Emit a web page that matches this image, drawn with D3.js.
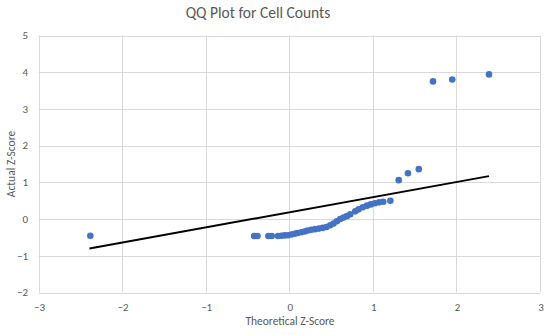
<!DOCTYPE html>
<html>
<head>
<meta charset="utf-8">
<script src="https://cdn.jsdelivr.net/npm/d3@7"></script>
<style>
  body { margin: 0; background: #fff; }
  text { font-family: Calibri, Carlito, Lato, "Open Sans", sans-serif; fill: #595959; }
</style>
</head>
<body>
<svg id="chart" width="550" height="335"></svg>
<script>
// theoretical z-scores (x) and actual z-scores (y)
const theoretical = [-2.38, -0.42, -0.38, -0.25, -0.21, -0.135, -0.095, -0.055, -0.015, 0.025,
  0.065, 0.10, 0.145, 0.185, 0.22, 0.265, 0.31, 0.355, 0.40, 0.445, 0.49, 0.53, 0.57, 0.61,
  0.65, 0.69, 0.73, 0.79, 0.83, 0.88, 0.93, 0.975, 1.025, 1.075, 1.125, 1.21,
  1.31, 1.42, 1.55, 1.72, 1.95, 2.39];
const actual = [-0.455, -0.46, -0.46, -0.46, -0.46, -0.46, -0.455, -0.445, -0.44, -0.42,
  -0.40, -0.38, -0.36, -0.34, -0.31, -0.29, -0.275, -0.26, -0.24, -0.215, -0.17, -0.12, -0.06, 0.0,
  0.04, 0.08, 0.13, 0.21, 0.265, 0.32, 0.365, 0.40, 0.43, 0.455, 0.47, 0.50,
  1.06, 1.25, 1.36, 3.75, 3.80, 3.94];
// reference line end points
const lineX = [-2.39, 2.39];
const lineY = [-0.80, 1.17];

const xTicks = [-3, -2, -1, 0, 1, 2, 3];
const yTicks = [-2, -1, 0, 1, 2, 3, 4, 5];

const svg = d3.select("#chart");
const plotL = 38.5, plotR = 540, plotT = 35.5, plotB = 292.5;

const x = d3.scaleLinear().domain([-3, 3]).range([plotL, plotR]);
const y = d3.scaleLinear().domain([-2, 5]).range([plotB, plotT]);

// grid
svg.append("g").selectAll("line").data(yTicks).enter().append("line")
  .attr("x1", plotL).attr("x2", plotR)
  .attr("y1", d => Math.round(y(d)) + 0.5).attr("y2", d => Math.round(y(d)) + 0.5)
  .attr("stroke", "#d9d9d9").attr("stroke-width", 1);
svg.append("g").selectAll("line").data(xTicks).enter().append("line")
  .attr("y1", plotT).attr("y2", plotB)
  .attr("x1", d => Math.round(x(d)) + 0.5).attr("x2", d => Math.round(x(d)) + 0.5)
  .attr("stroke", "#d9d9d9").attr("stroke-width", 1);

const fmt = d3.format("d");

// tick labels
svg.append("g").selectAll("text").data(yTicks).enter().append("text")
  .attr("x", 28).attr("y", d => y(d) + 3.8)
  .attr("text-anchor", "end").attr("font-size", 11)
  .text(d => fmt(d));
svg.append("g").selectAll("text").data(xTicks).enter().append("text")
  .attr("x", d => x(d) + 1).attr("y", 311)
  .attr("text-anchor", "middle").attr("font-size", 11)
  .text(d => fmt(d));

// titles
svg.append("text").attr("x", 258).attr("y", 18)
  .attr("text-anchor", "middle").attr("font-size", 15.5)
  .text("QQ Plot for Cell Counts");
svg.append("text").attr("x", 290).attr("y", 325)
  .attr("text-anchor", "middle").attr("font-size", 11.5)
  .text("Theoretical Z-Score");
svg.append("text").attr("transform", "translate(15,164) rotate(-90)")
  .attr("text-anchor", "middle").attr("font-size", 11.5)
  .text("Actual Z-Score");

// reference line
svg.append("line")
  .attr("x1", x(lineX[0])).attr("y1", y(lineY[0]))
  .attr("x2", x(lineX[1])).attr("y2", y(lineY[1]))
  .attr("stroke", "#000").attr("stroke-width", 2);

// points
const pts = theoretical.map((t, i) => ({ t, a: actual[i] }));
svg.append("g").selectAll("circle").data(pts).enter().append("circle")
  .attr("cx", d => x(d.t)).attr("cy", d => y(d.a))
  .attr("r", 3.3)
  .attr("fill", "#4472c4");
</script>
</body>
</html>
